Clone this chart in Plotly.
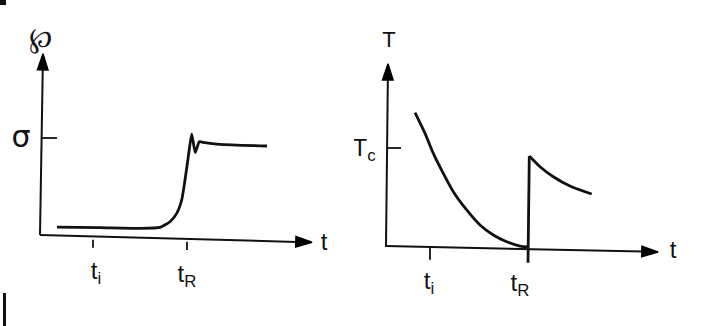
import plotly.graph_objects as go

# ---------------- data ----------------
# Left panel: load-like quantity vs time (sigma level reached after t_R)
left_t = [0.34, 1.2, 2.0, 2.4, 2.6, 2.734, 2.834, 2.9, 2.966, 3.034, 3.106, 3.186, 3.266, 3.6, 4.54]
left_v = [0.082, 0.076, 0.069, 0.079, 0.137, 0.223, 0.361, 0.567, 0.807, 1.04, 0.85, 0.962, 0.955, 0.935, 0.918]
left_ticks_t = [1.06, 2.94]
left_tick_labels = ["t<sub>i</sub>", "t<sub>R</sub>"]
sigma_level = 1.0

# Right panel: temperature vs time
right_t1 = [0.56, 0.76, 0.926, 1.126, 1.326, 1.594, 1.86, 2.126, 2.394, 2.66, 2.82]
right_v1 = [1.357, 1.148, 0.946, 0.744, 0.559, 0.374, 0.222, 0.121, 0.053, 0.01, 0.0]
jump_t = [2.82, 2.846]
jump_v = [-0.16, 0.919]
right_t2 = [2.846, 3.06, 3.326, 3.66, 4.094]
right_v2 = [0.919, 0.811, 0.71, 0.616, 0.535]
right_ticks_t = [0.86, 2.82]
right_tick_labels = ["t<sub>i</sub>", "t<sub>R</sub>"]
Tc_level = 1.0

FONT = "Liberation Sans Narrow, Liberation Sans, Arial, sans-serif"
INK = "#111111"

fig = go.Figure()

def line(x, y, ax, w=2.8, shape="linear", smoothing=None):
    ln = dict(color=INK, width=w, shape=shape)
    if smoothing is not None:
        ln["smoothing"] = smoothing
    fig.add_trace(go.Scatter(x=x, y=y, mode="lines", line=ln,
                             xaxis="x" if ax == 1 else "x2",
                             yaxis="y" if ax == 1 else "y2", hoverinfo="skip"))

def axis(x, y, ax):
    fig.add_trace(go.Scatter(x=x, y=y, mode="lines+markers",
                             line=dict(color=INK, width=2),
                             marker=dict(symbol="arrow", size=[0, 17], angleref="previous",
                                         color="#000000", opacity=1,
                                         line=dict(width=1.5, color="#000000")),
                             opacity=1,
                             xaxis="x" if ax == 1 else "x2",
                             yaxis="y" if ax == 1 else "y2", hoverinfo="skip"))

# axes with arrowheads (slightly tilted, as in the scan)
axis([0, 0.06], [0, 1.87], 1)
axis([0, 5.44], [0, -0.075], 1)
axis([-0.02, 0.02], [0, 1.85], 2)
axis([-0.02, 5.42], [0.01, -0.05], 2)

# curves
line(left_t, left_v, 1, shape="spline", smoothing=0.5)
line(right_t1, right_v1, 2, shape="spline", smoothing=0.8)
line(jump_t, jump_v, 2)
line(right_t2, right_v2, 2, shape="spline", smoothing=0.8)

# level ticks (sigma, Tc)
line([0.04, 0.34], [sigma_level, sigma_level], 1, w=1.8)
line([0.02, 0.28], [Tc_level, Tc_level], 2, w=1.8)

# time ticks
for tt, y0, y1 in zip(left_ticks_t, [-0.05, -0.07], [-0.13, -0.155]):
    line([tt, tt], [y0, y1], 1, w=1.8)
line([right_ticks_t[0]] * 2, [-0.01, -0.13], 2, w=1.8)

def label(txt, x, y, ax, size=24, family=FONT):
    fig.add_trace(go.Scatter(x=[x], y=[y], mode="text", text=[txt],
                             textposition="middle center",
                             textfont=dict(family=family, size=size, color=INK),
                             xaxis="x" if ax == 1 else "x2",
                             yaxis="y" if ax == 1 else "y2", hoverinfo="skip"))

label("℘", 0.0, 2.01, 1, size=28, family="DejaVu Serif")
label("σ", -0.38, 0.98, 1, size=30, family="DejaVu Sans")
label("t", 5.68, -0.095, 1)
label(left_tick_labels[0], left_ticks_t[0] + 0.06, -0.39, 1)
label(left_tick_labels[1], left_ticks_t[1] + 0.0, -0.42, 1)

label("T", 0.04, 2.08, 2, size=22)
label("T<sub>c</sub>", -0.46, 0.98, 2, size=24)
label("t", 5.72, -0.05, 2)
label(right_tick_labels[0], right_ticks_t[0] - 0.02, -0.36, 2)
label(right_tick_labels[1], right_ticks_t[1] - 0.16, -0.38, 2)

# scan edge marks
shapes = [
    dict(type="rect", xref="paper", yref="paper", x0=0, x1=6/708, y0=1 - 5/326, y1=1,
         fillcolor=INK, line=dict(width=0)),
    dict(type="rect", xref="paper", yref="paper", x0=3/708, x1=6/708, y0=0, y1=33/326,
         fillcolor=INK, line=dict(width=0)),
]

hidden = dict(visible=False, showgrid=False, zeroline=False, fixedrange=True)
fig.update_layout(
    width=708, height=326,
    margin=dict(l=0, r=0, t=0, b=0),
    paper_bgcolor="white", plot_bgcolor="white",
    showlegend=False,
    xaxis=dict(domain=[0, 0.5], range=[-0.8, 6.28], **hidden),
    yaxis=dict(domain=[0, 1], range=[-0.938, 2.423], **hidden),
    xaxis2=dict(domain=[0.5, 1], range=[-0.66, 6.42], anchor="y2", **hidden),
    yaxis2=dict(domain=[0, 1], range=[-0.798, 2.495], anchor="x2", **hidden),
    shapes=shapes,
)

fig.write_html("out.html", config={"displayModeBar": False},
               post_script="document.body.style.margin='0';document.body.style.overflow='hidden';")
